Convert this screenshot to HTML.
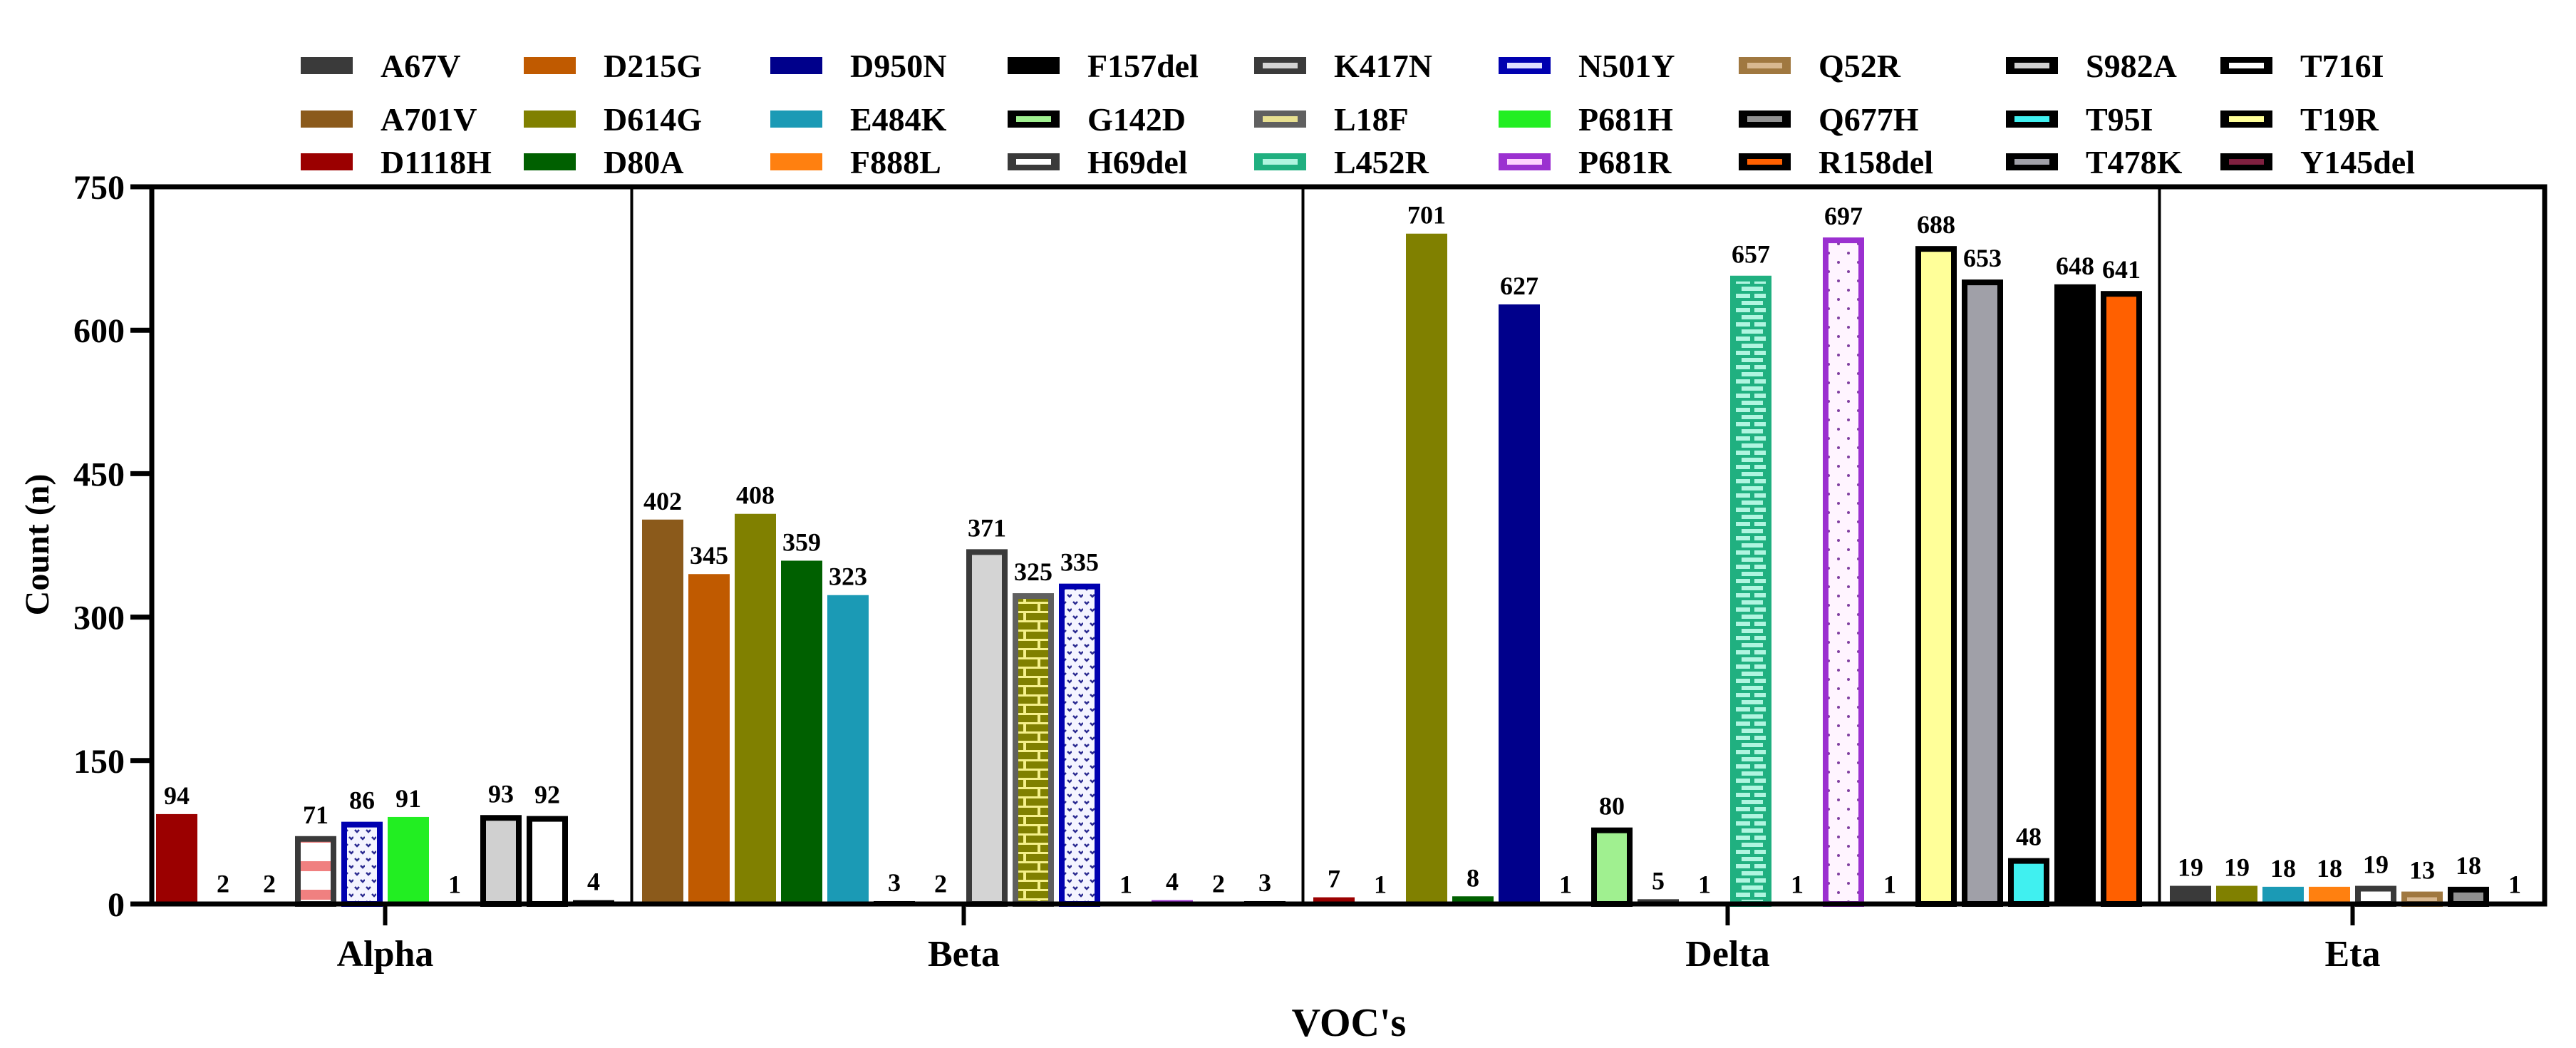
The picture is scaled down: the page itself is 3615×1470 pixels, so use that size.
<!DOCTYPE html>
<html><head><meta charset="utf-8"><style>
html,body{margin:0;padding:0;background:#fff;}
svg{display:block;font-family:"Liberation Serif","DejaVu Serif",serif;font-weight:bold;}
svg text{font-family:"Liberation Serif","DejaVu Serif",serif;font-weight:bold;}
</style></head><body>
<svg id="chart" width="3615" height="1470" viewBox="0 0 3615 1470" xmlns="http://www.w3.org/2000/svg" font-family="Liberation Serif, DejaVu Serif, serif" font-weight="bold">
<defs>
<pattern id="pStripe" width="10" height="40" patternUnits="userSpaceOnUse"><rect width="10" height="40" fill="#fff"/><rect y="8" width="10" height="14" fill="#f08080"/></pattern>
<pattern id="pDotBlue" width="16" height="20" patternUnits="userSpaceOnUse"><rect width="16" height="20" fill="#f4f4ff"/><path d="M2 4l3 3 3-3M10 14l3 3 3-3" stroke="#2a2a90" stroke-width="2.5" fill="none"/></pattern>
<pattern id="pBrickOlive" width="40" height="26" patternUnits="userSpaceOnUse"><rect width="40" height="26" fill="#f5f08a"/><rect x="0" y="2" width="36" height="10" fill="#808000"/><rect x="-20" y="15" width="36" height="10" fill="#808000"/><rect x="20" y="15" width="36" height="10" fill="#808000"/></pattern>
<pattern id="pBrickTeal" width="40" height="20" patternUnits="userSpaceOnUse"><rect width="40" height="20" fill="#20b080"/><rect x="4" y="2" width="30" height="6" fill="#b0f5e0"/><rect x="-14" y="12" width="30" height="6" fill="#b0f5e0"/><rect x="22" y="12" width="30" height="6" fill="#b0f5e0"/></pattern>
<pattern id="pDotPurple" width="28" height="26" patternUnits="userSpaceOnUse"><rect width="28" height="26" fill="#fff4ff"/><circle cx="4" cy="4" r="2" fill="#8040a0"/><circle cx="18" cy="17" r="2" fill="#8040a0"/></pattern>
<pattern id="pGreenV" width="58" height="10" patternUnits="userSpaceOnUse"><rect width="58" height="10" fill="#a0f090"/><rect x="25" width="8" height="10" fill="#999"/></pattern>
</defs>
<g id="legend"></g>
<g id="bars"></g>
<g id="axes"></g>
</svg>
<script>
const yTicks = [0,150,300,450,600,750];
const groups = ["Alpha","Beta","Delta","Eta"];
const alphaNames = ["D1118H","D614G","E484K","H69del","N501Y","P681H","Q677H","S982A","T716I","Y145del"];
const alphaValues = [94,2,2,71,86,91,1,93,92,4];
const betaNames = ["A701V","D215G","D614G","D80A","E484K","F157del","G142D","K417N","L18F","N501Y","P681H","P681R","T478K","Y145del"];
const betaValues = [402,345,408,359,323,3,2,371,325,335,1,4,2,3];
const deltaNames = ["D1118H","D215G","D614G","D80A","D950N","E484K","G142D","H69del","K417N","L452R","N501Y","P681R","Q677H","T19R","T478K","T95I","F157del","R158del"];
const deltaValues = [7,1,701,8,627,1,80,5,1,657,1,697,1,688,653,48,648,641];
const etaNames = ["A67V","D614G","E484K","F888L","H69del","Q52R","Q677H","Y145del"];
const etaValues = [19,19,18,18,19,13,18,1];
const legendNames = ["A67V","A701V","D1118H","D215G","D614G","D80A","D950N","E484K","F888L","F157del","G142D","H69del","K417N","L18F","L452R","N501Y","P681H","P681R","Q52R","Q677H","R158del","S982A","T95I","T478K","T716I","T19R","Y145del"];

const S = {
 A67V:{f:"#3a3a3a"}, A701V:{f:"#8b5a1b"}, D1118H:{f:"#9b0000"}, D215G:{f:"#c05a00"},
 D614G:{f:"#808000"}, D80A:{f:"#006000"}, D950N:{f:"#00008b"}, E484K:{f:"#1b9ab5"},
 F888L:{f:"#ff8010"}, F157del:{f:"#000"}, G142D:{f:"url(#pGreenV)",s:"#000",lf:"#a0f090"},
 H69del:{f:"#fff",s:"#3a3a3a"}, K417N:{f:"#d4d4d4",s:"#3a3a3a"}, L18F:{f:"url(#pBrickOlive)",s:"#606060",lf:"#e8e090"},
 L452R:{f:"url(#pBrickTeal)",s:"#20b080",lf:"#b0f5e0"}, N501Y:{f:"url(#pDotBlue)",s:"#0000b0",lf:"#e0e0ff"},
 P681H:{f:"#22ee22"}, P681R:{f:"url(#pDotPurple)",s:"#9b30d0",lf:"#ffd0ff"}, Q52R:{f:"#d8b890",s:"#a07840"},
 Q677H:{f:"#909090",s:"#000"}, R158del:{f:"#ff6000",s:"#000"}, S982A:{f:"#d0d0d0",s:"#000"},
 T95I:{f:"#40f0f0",s:"#000"}, T478K:{f:"#a0a0a8",s:"#000"}, T716I:{f:"#fff",s:"#000"},
 T19R:{f:"#ffff99",s:"#000"}, Y145del:{f:"#802040",s:"#000"}
};
const NS="http://www.w3.org/2000/svg";
const FF="Liberation Serif, DejaVu Serif, serif";
function mk(tag, attrs, parent){const e=document.createElementNS(NS,tag);for(const k in attrs)e.setAttribute(k,attrs[k]);if(tag==='text'){e.setAttribute('font-family',FF);e.setAttribute('font-weight','bold');}parent.appendChild(e);return e;}
const X0=213,X1=3571,Y0=1268,Y750=262;
function yScale(v){return Y0-(v/750)*(Y0-Y750);}
function xCenter(k,g){return 248+65*k+32*g;}
const BW=58;
const bars=document.getElementById('bars'), axes=document.getElementById('axes'), legend=document.getElementById('legend');
const allNames=[alphaNames,betaNames,deltaNames,etaNames];
const allVals=[alphaValues,betaValues,deltaValues,etaValues];
function barStyle(g,name){
  if(g===0&&name==="H69del") return {f:"url(#pStripe)",s:"#3a3a3a"};
  return S[name];
}
let k=0; const groupCenters=[]; const groupEdges=[];
allVals.forEach((vals,g)=>{
  const first=xCenter(k,g);
  vals.forEach((v,i)=>{
    const name=allNames[g][i]; const st=barStyle(g,name);
    const cx=xCenter(k,g); const top=yScale(v);
    const h=Y0-top;
    let r;
    if(st.s && h>10){
      r=mk('rect',{x:cx-BW/2+4,y:top+4,width:BW-8,height:Math.max(h-4,0),fill:st.f,stroke:st.s,'stroke-width':8},bars);
    } else {
      r=mk('rect',{x:cx-BW/2,y:top,width:BW,height:Math.max(h,0),fill:st.s&&h<=10?st.s:st.f},bars);
    }
    
    
    const t=mk('text',{x:cx,y:top-(st.s&&h>10?18:14),'text-anchor':'middle','font-size':36},bars);
    t.textContent=v;
    
    
    k++;
  });
  const last=xCenter(k-1,g);
  groupCenters.push((first+last)/2);
  groupEdges.push([first,last]);
});
const fr=mk('rect',{x:X0,y:Y750,width:X1-X0,height:Y0-Y750,fill:'none',stroke:'#000','stroke-width':7},axes);


for(let g=0;g<3;g++){
  const sx=(groupEdges[g][1]+groupEdges[g+1][0])/2+5;
  const l=mk('line',{x1:sx,y1:Y750,x2:sx,y2:Y0,stroke:'#000','stroke-width':4},axes);
  
  
}
yTicks.forEach(v=>{
  const y=yScale(v);
  const tk=mk('line',{x1:183,y1:y,x2:X0,y2:y,stroke:'#000','stroke-width':7},axes);
  
  
  const t=mk('text',{x:175,y:y+17,'text-anchor':'end','font-size':48},axes);
  t.textContent=v;
  
  
});
groups.forEach((gname,g)=>{
  const cx=groupCenters[g];
  const tk=mk('line',{x1:cx,y1:Y0,x2:cx,y2:1298,stroke:'#000','stroke-width':6},axes);
  
  
  const t=mk('text',{x:cx,y:1355,'text-anchor':'middle','font-size':52},axes);
  t.textContent=gname;
  
  
});
const xt=mk('text',{x:1893,y:1453,'text-anchor':'middle','font-size':56},axes);
xt.textContent="VOC's";


const yt=mk('text',{x:0,y:0,'text-anchor':'middle','font-size':48,transform:'translate(68,764) rotate(-90)'},axes);
yt.textContent="Count  (n)";


const colSw=[422,735,1081,1414,1760,2103,2440,2815,3116];
const rowY=[92,167,227];
legendNames.forEach((name,i)=>{
  const c=Math.floor(i/3), r=i%3; const st=S[name];
  const x=colSw[c], y=rowY[r];
  const g=mk('g',{},legend);
  
  
  if(st.s){
    mk('rect',{x:x,y:y-12,width:73,height:24,fill:st.s},g);
    mk('rect',{x:x+12,y:y-4,width:49,height:8,fill:st.lf||st.f},g);
  } else mk('rect',{x:x,y:y-12,width:73,height:24,fill:st.f},g);
  const t=mk('text',{x:x+112,y:y+16,'font-size':46},g);
  t.textContent=name;
});
</script>
</body></html>
